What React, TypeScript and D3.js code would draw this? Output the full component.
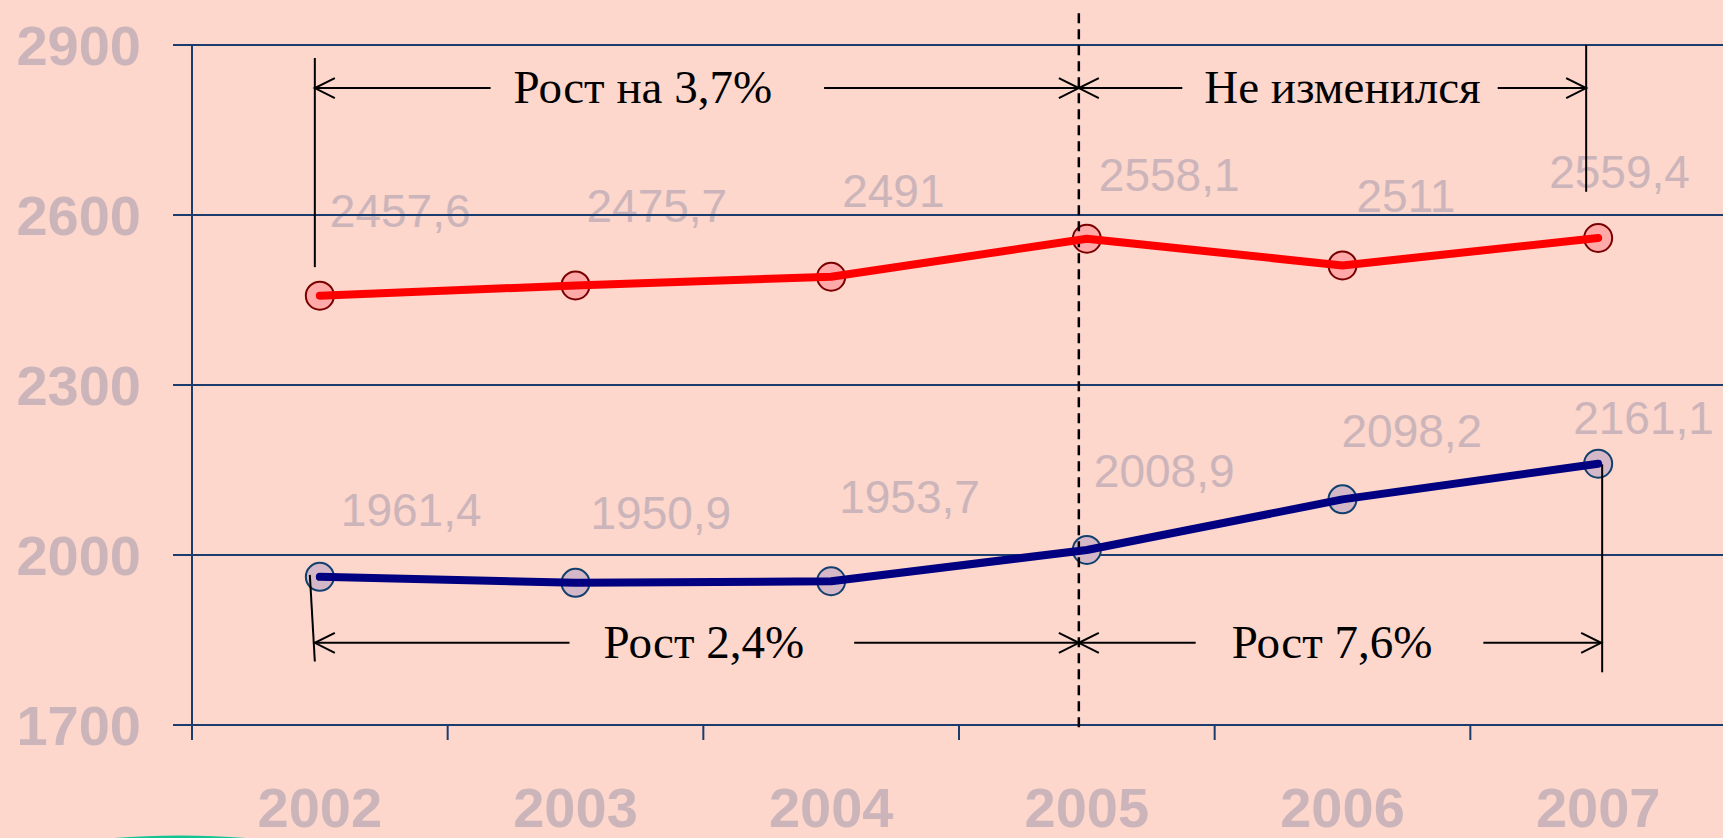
import React, { useRef, useEffect } from 'react'
import * as d3 from 'd3'

// ===== data =====
const years = ['2002', '2003', '2004', '2005', '2006', '2007']
const upperValues = [2457.6, 2475.7, 2491, 2558.1, 2511, 2559.4]
const lowerValues = [1961.4, 1950.9, 1953.7, 2008.9, 2098.2, 2161.1]
const yTicks = [1700, 2000, 2300, 2600, 2900]

const upperSpans = [
  { from: '2002', to: '2005', text: 'Рост на 3,7%' },
  { from: '2005', to: '2007', text: 'Не изменился' },
]
const lowerSpans = [
  { from: '2002', to: '2005', text: 'Рост 2,4%' },
  { from: '2005', to: '2007', text: 'Рост 7,6%' },
]

// ===== layout =====
const W = 1723
const H = 838
const BG = '#fdd6cc'
const AXIS = '#1b3d6e'
const GREY = '#cbb5ba'
const SANS = '"Liberation Sans", Arial, sans-serif'
const SERIF = '"Liberation Serif", "Times New Roman", serif'

// label placement relative to the point [dx, dy]
const upperLabelOffset = [[10, -69], [11, -63], [11, -70], [12, -48], [14, -53], [-49, -50]]
const lowerLabelOffset = [[21, -51], [15, -54], [8, -68], [7, -63], [-1, -52], [-25, -30]]
// text shift from span middle, and gaps left/right of the text
const upperSpanLayout = [{ shift: -54, padL: 23, padR: 52 }, { shift: 10, padL: 22, padR: 17 }]
const lowerSpanLayout = [{ shift: 7, padL: 34, padR: 50 }, { shift: -8, padL: 36, padR: 51 }]

const fmt = (v: number) => String(v).replace('.', ',')

export default function App() {
  const ref = useRef<SVGSVGElement>(null)

  useEffect(() => {
    const svg = d3.select(ref.current)
    svg.selectAll('*').remove()

    const x = d3.scaleBand<string>().domain(years).range([192, 1726])
    const xc = (d: string) => (x(d) as number) + x.bandwidth() / 2
    const y = d3.scaleLinear().domain([1700, 2900]).range([725, 45])

    svg.append('rect').attr('width', W).attr('height', H).attr('fill', BG)

    // decorative green ellipse peeking at the bottom
    svg.append('ellipse')
      .attr('cx', 180).attr('cy', 902).attr('rx', 230).attr('ry', 64)
      .attr('fill', BG).attr('stroke', '#12c494').attr('stroke-width', 5)

    // value labels (under the grid)
    const labels = svg.append('g')
      .attr('font-family', SANS).attr('font-size', 46).attr('fill', GREY)
    const addLabels = (vals: number[], offs: number[][]) => {
      labels.append('g').selectAll('text').data(vals).join('text')
        .attr('x', (d, i) => xc(years[i]) + offs[i][0])
        .attr('y', (d, i) => y(d) + offs[i][1])
        .text(d => fmt(d))
    }
    addLabels(upperValues, upperLabelOffset)
    addLabels(lowerValues, lowerLabelOffset)

    // grid
    svg.append('g').selectAll('line').data(yTicks).join('line')
      .attr('x1', 173).attr('x2', W)
      .attr('y1', d => y(d)).attr('y2', d => y(d))
      .attr('stroke', AXIS).attr('stroke-width', 2)

    // y axis line + x ticks
    svg.append('line')
      .attr('x1', 192).attr('x2', 192).attr('y1', y(2900)).attr('y2', y(1700) + 15)
      .attr('stroke', AXIS).attr('stroke-width', 2)
    svg.append('g').selectAll('line').data(years.slice(1)).join('line')
      .attr('x1', d => x(d) as number).attr('x2', d => x(d) as number)
      .attr('y1', y(1700)).attr('y2', y(1700) + 15)
      .attr('stroke', AXIS).attr('stroke-width', 2)

    // axis labels
    svg.append('g').selectAll('text').data(yTicks).join('text')
      .attr('x', 141).attr('y', d => y(d) + 20)
      .attr('text-anchor', 'end')
      .attr('font-family', SANS).attr('font-weight', 'bold').attr('font-size', 56)
      .attr('fill', GREY)
      .text(d => d)
    svg.append('g').selectAll('text').data(years).join('text')
      .attr('x', d => xc(d)).attr('y', 827)
      .attr('text-anchor', 'middle')
      .attr('font-family', SANS).attr('font-weight', 'bold').attr('font-size', 56)
      .attr('fill', GREY)
      .text(d => d)

    // markers
    const addMarkers = (vals: number[], fill: string, stroke: string) => {
      svg.append('g').selectAll('circle').data(vals).join('circle')
        .attr('cx', (d, i) => xc(years[i])).attr('cy', d => y(d))
        .attr('r', 14).attr('fill', fill).attr('stroke', stroke).attr('stroke-width', 2)
    }
    addMarkers(upperValues, '#ffa9a9', '#7a0000')
    addMarkers(lowerValues, '#d5b8c8', '#12406e')

    // ===== annotations =====
    const ann = svg.append('g').attr('stroke', '#000').attr('stroke-width', 2).attr('fill', 'none')
    const splitX = xc('2005') - 8

    // dashed divider at 2005
    ann.append('line')
      .attr('x1', splitX).attr('x2', splitX).attr('y1', y(2956)).attr('y2', y(1686))
      .attr('stroke-width', 2.5).attr('stroke-dasharray', '10,6')

    // tie lines
    ann.append('line').attr('x1', xc('2002') - 5).attr('x2', xc('2002') - 5)
      .attr('y1', y(2877)).attr('y2', y(2508))
    ann.append('line').attr('x1', xc('2007') - 12).attr('x2', xc('2007') - 12)
      .attr('y1', y(2900)).attr('y2', y(2641))
    ann.append('line').attr('x1', xc('2002') - 10).attr('x2', xc('2002') - 5)
      .attr('y1', y(1965)).attr('y2', y(1812))
    ann.append('line').attr('x1', xc('2007') + 4).attr('x2', xc('2007') + 4)
      .attr('y1', y(2160)).attr('y2', y(1793))

    const head = (px: number, py: number, dir: number) =>
      `M${px + dir * 20},${py - 10}L${px},${py}L${px + dir * 20},${py + 10}`

    const drawSpans = (
      spans: { from: string; to: string; text: string }[],
      layout: { shift: number; padL: number; padR: number }[],
      level: number,
      ends: number[][]
    ) => {
      const ay = y(level)
      spans.forEach((s, i) => {
        const [x0, x1] = ends[i]
        const cx = (x0 + x1) / 2 + layout[i].shift
        const t = svg.append('text')
          .attr('x', cx).attr('y', ay + 15)
          .attr('text-anchor', 'middle')
          .attr('font-family', SERIF).attr('font-size', 47).attr('fill', '#000')
          .text(s.text)
        const tw = (t.node() as SVGTextElement).getComputedTextLength()
        ann.append('line').attr('x1', x0).attr('x2', cx - tw / 2 - layout[i].padL)
          .attr('y1', ay).attr('y2', ay)
        ann.append('line').attr('x1', cx + tw / 2 + layout[i].padR).attr('x2', x1)
          .attr('y1', ay).attr('y2', ay)
        ann.append('path').attr('d', head(x0, ay, 1))
        ann.append('path').attr('d', head(x1, ay, -1))
      })
    }
    drawSpans(upperSpans, upperSpanLayout, 2824, [
      [xc(upperSpans[0].from) - 5, splitX],
      [splitX, xc(upperSpans[1].to) - 12],
    ])
    drawSpans(lowerSpans, lowerSpanLayout, 1845, [
      [xc(lowerSpans[0].from) - 5, splitX],
      [splitX, xc(lowerSpans[1].to) + 3],
    ])

    // series lines (on top)
    const line = d3.line<number>().x((d, i) => xc(years[i])).y(d => y(d))
    svg.append('path').datum(upperValues).attr('d', line)
      .attr('fill', 'none').attr('stroke', '#ff0000').attr('stroke-width', 8)
      .attr('stroke-linecap', 'round').attr('stroke-linejoin', 'round')
    svg.append('path').datum(lowerValues).attr('d', line)
      .attr('fill', 'none').attr('stroke', '#000080').attr('stroke-width', 8)
      .attr('stroke-linecap', 'round').attr('stroke-linejoin', 'round')
  }, [])

  return (
    <>
      <style>{`body{margin:0;background:${BG}}`}</style>
      <svg ref={ref} width={W} height={H} viewBox={`0 0 ${W} ${H}`} style={{ display: 'block' }} />
    </>
  )
}
